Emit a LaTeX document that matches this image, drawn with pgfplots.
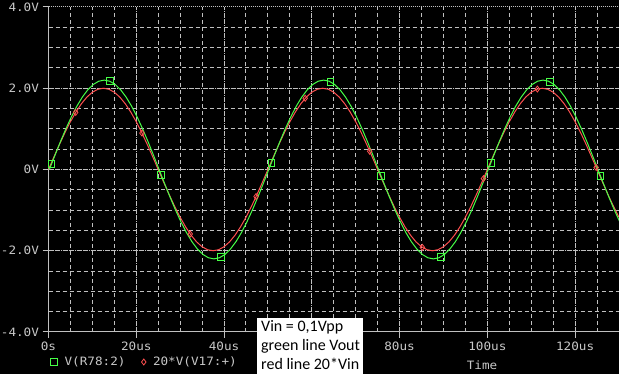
\documentclass[border=0pt]{standalone}
\usepackage{fontspec}
\usepackage{pgfplots}
\usepackage{pgfplotstable}
\pgfplotsset{compat=1.18}
\newfontfamily\psfont[FakeStretch=1.1]{DejaVu Sans Mono}
\newfontfamily\notefont{Carlito}
\definecolor{psgrid}{RGB}{192,192,192}
\definecolor{pstext}{RGB}{200,200,200}
\definecolor{psgreen}{RGB}{70,255,70}
\definecolor{psred}{RGB}{255,80,80}

\pgfplotstableread{
t r tg g
0 0 0.2 0
1.25 0.313 1.45 0.344
2.5 0.618 2.7 0.680
3.75 0.908 3.95 0.999
5 1.176 5.2 1.293
6.25 1.414 6.45 1.556
7.5 1.618 7.7 1.780
8.75 1.782 8.95 1.960
10 1.902 10.2 2.092
11.25 1.975 11.45 2.173
12.5 2.000 12.7 2.200
13.75 1.975 13.95 2.173
15 1.902 15.2 2.092
16.25 1.782 16.45 1.960
17.5 1.618 17.7 1.780
18.75 1.414 18.95 1.556
20 1.176 20.2 1.293
21.25 0.908 21.45 0.999
22.5 0.618 22.7 0.680
23.75 0.313 23.95 0.344
25 0 25.2 0
26.25 -0.313 26.45 -0.344
27.5 -0.618 27.7 -0.680
28.75 -0.908 28.95 -0.999
30 -1.176 30.2 -1.293
31.25 -1.414 31.45 -1.556
32.5 -1.618 32.7 -1.780
33.75 -1.782 33.95 -1.960
35 -1.902 35.2 -2.092
36.25 -1.975 36.45 -2.173
37.5 -2.000 37.7 -2.200
38.75 -1.975 38.95 -2.173
40 -1.902 40.2 -2.092
41.25 -1.782 41.45 -1.960
42.5 -1.618 42.7 -1.780
43.75 -1.414 43.95 -1.556
45 -1.176 45.2 -1.293
46.25 -0.908 46.45 -0.999
47.5 -0.618 47.7 -0.680
48.75 -0.313 48.95 -0.344
50 0 50.2 0
51.25 0.313 51.45 0.344
52.5 0.618 52.7 0.680
53.75 0.908 53.95 0.999
55 1.176 55.2 1.293
56.25 1.414 56.45 1.556
57.5 1.618 57.7 1.780
58.75 1.782 58.95 1.960
60 1.902 60.2 2.092
61.25 1.975 61.45 2.173
62.5 2.000 62.7 2.200
63.75 1.975 63.95 2.173
65 1.902 65.2 2.092
66.25 1.782 66.45 1.960
67.5 1.618 67.7 1.780
68.75 1.414 68.95 1.556
70 1.176 70.2 1.293
71.25 0.908 71.45 0.999
72.5 0.618 72.7 0.680
73.75 0.313 73.95 0.344
75 0 75.2 0
76.25 -0.313 76.45 -0.344
77.5 -0.618 77.7 -0.680
78.75 -0.908 78.95 -0.999
80 -1.176 80.2 -1.293
81.25 -1.414 81.45 -1.556
82.5 -1.618 82.7 -1.780
83.75 -1.782 83.95 -1.960
85 -1.902 85.2 -2.092
86.25 -1.975 86.45 -2.173
87.5 -2.000 87.7 -2.200
88.75 -1.975 88.95 -2.173
90 -1.902 90.2 -2.092
91.25 -1.782 91.45 -1.960
92.5 -1.618 92.7 -1.780
93.75 -1.414 93.95 -1.556
95 -1.176 95.2 -1.293
96.25 -0.908 96.45 -0.999
97.5 -0.618 97.7 -0.680
98.75 -0.313 98.95 -0.344
100 0 100.2 0
101.25 0.313 101.45 0.344
102.5 0.618 102.7 0.680
103.75 0.908 103.95 0.999
105 1.176 105.2 1.293
106.25 1.414 106.45 1.556
107.5 1.618 107.7 1.780
108.75 1.782 108.95 1.960
110 1.902 110.2 2.092
111.25 1.975 111.45 2.173
112.5 2.000 112.7 2.200
113.75 1.975 113.95 2.173
115 1.902 115.2 2.092
116.25 1.782 116.45 1.960
117.5 1.618 117.7 1.780
118.75 1.414 118.95 1.556
120 1.176 120.2 1.293
121.25 0.908 121.45 0.999
122.5 0.618 122.7 0.680
123.75 0.313 123.95 0.344
125 0 125.2 0
126.25 -0.313 126.45 -0.344
127.5 -0.618 127.7 -0.680
128.75 -0.908 128.95 -0.999
130 -1.176 130.2 -1.293
}\wave

\begin{document}
\begin{tikzpicture}[x=1pt,y=1pt]
\fill[black] (0,0) rectangle (619,374);
\useasboundingbox (0,0) rectangle (619,374);
\begin{axis}[
  at={(48.5pt,42pt)}, anchor=south west,
  scale only axis, width=570.5pt, height=325pt,
  xmin=0, xmax=130, ymin=-4, ymax=4,
  axis lines=left,
  axis line style={-, draw=psgrid, line width=1pt},
  xtick={0,20,...,120},
  xticklabels={0s,20us,40us,{},80us,100us,120us},
  minor xtick={5,10,...,130},
  ytick={-4,-2,0,2,4},
  yticklabels={-4.0V,-2.0V,0V,2.0V,4.0V},
  minor ytick={-3.5,-3,...,3.5},
  tick align=outside,
  major tick length=6pt,
  minor tick length=0pt,
  tick style={draw=psgrid, line width=1pt},
  grid=both,
  major grid style={draw=psgrid, line width=1pt, dash pattern=on 1pt off 1pt},
  minor grid style={draw=psgrid, line width=1pt, dash pattern=on 4pt off 3pt},
  ticklabel style={font=\psfont\fontsize{11.5}{13}\selectfont, text=pstext},
  /pgf/number format/assume math mode=true,
  xlabel={Time},
  xlabel style={at={(rel axis cs:0.7599,-0.1015)}, anchor=center, font=\psfont\fontsize{11.5}{13}\selectfont, text=pstext},
  legend columns=2,
  legend style={at={(rel axis cs:0.004,-0.0923)}, anchor=west, draw=none, fill=none,
    font=\psfont\fontsize{11.5}{13}\selectfont, text=pstext, inner sep=0pt,
    /tikz/every odd column/.append style={column sep=5pt},
    /tikz/every even column/.append style={column sep=14pt}},
  legend image code/.code={\draw[#1] plot coordinates {(3pt,0pt)};},
]
\addplot[psred, line width=1pt, forget plot] table[x=t, y=r] {\wave};
\addplot[psgreen, line width=1pt, forget plot] table[x=tg, y=g] {\wave};
\addplot[only marks, mark=square, mark size=3.3pt, draw=psgreen, mark options={line width=1pt, fill=none}] coordinates {
(0.7,0.138) (14.0,2.171) (25.7,-0.138) (39.3,-2.156) (50.8,0.166) (64.3,2.156)
(75.8,-0.166) (89.4,-2.150) (100.8,0.166) (114.3,2.156) (125.8,-0.166)};
\addlegendentry{V(R78:2)}
\addplot[only marks, mark=diamond, mark size=3pt, draw=psred, mark options={line width=0.8pt, fill=none}] coordinates {
(6.2,1.405) (21.3,0.897) (32.3,-1.588) (47.3,-0.666) (58.5,1.753) (73.2,0.449)
(85.2,-1.917) (99.1,-0.226) (111.4,1.981) (124.8,0.050)};
\addlegendentry{20*V(V17:+)}
\end{axis}
\fill[white] (257,0) rectangle (363,56);
\node[anchor=north west, align=left, inner sep=0pt, font=\notefont\fontsize{16}{19}\selectfont, text=black] at (261,54) {Vin = 0,1Vpp\\green line Vout\\red line 20*Vin};
\end{tikzpicture}
\end{document}
